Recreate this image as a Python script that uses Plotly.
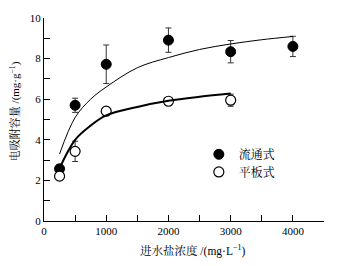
import plotly.graph_objects as go

# Data
conc = [250, 500, 1000, 2000, 3000, 4000]
flow_q = [2.57, 5.7, 7.72, 8.91, 8.34, 8.6]
flow_err = [0.2, 0.35, 0.95, 0.6, 0.55, 0.5]

conc_plate = [250, 500, 1000, 2000, 3000]
plate_q = [2.21, 3.43, 5.41, 5.9, 5.95]
plate_err = [0.2, 0.5, 0.15, 0.15, 0.3]

# fitted curves
fit_flow_x = [250, 500, 750, 1000, 1500, 2000, 2500, 3000, 3500, 4000]
fit_flow_y = [3.3, 5.1, 6.0, 6.6, 7.55, 8.05, 8.45, 8.72, 8.93, 9.09]
fit_plate_x = [250, 500, 750, 1000, 1500, 2000, 2500, 3000]
fit_plate_y = [2.6, 4.0, 4.7, 5.2, 5.62, 5.92, 6.12, 6.28]

x_ticks = [0, 1000, 2000, 3000, 4000]
y_ticks = [0, 2, 4, 6, 8, 10]

x_title = "进水盐浓度 /(mg·L<sup>−1</sup>)"
y_title = "电吸附容量 /(mg·g<sup>−1</sup>)"

FONT = "'Liberation Serif', 'Times New Roman', 'Noto Serif CJK SC', 'Noto Sans CJK SC', serif"

fig = go.Figure()
fig.add_trace(go.Scatter(
    x=conc, y=flow_q, mode="markers", name="流通式", legend="legend",
    marker=dict(symbol="circle", size=10, color="black", line=dict(color="black", width=1)),
    error_y=dict(type="data", array=flow_err, visible=True, color="#333333", thickness=1, width=3),
))
fig.add_trace(go.Scatter(
    x=conc_plate, y=plate_q, mode="markers", name="平板式", legend="legend2",
    marker=dict(symbol="circle", size=10, color="white", line=dict(color="black", width=1.2)),
    error_y=dict(type="data", array=plate_err, visible=True, color="#333333", thickness=1, width=3),
))
fig.add_trace(go.Scatter(
    x=fit_flow_x, y=fit_flow_y, mode="lines", showlegend=False,
    line=dict(color="black", width=1, shape="spline"),
))
fig.add_trace(go.Scatter(
    x=fit_plate_x, y=fit_plate_y, mode="lines", showlegend=False,
    line=dict(color="black", width=2, shape="spline"),
))

leg_common = dict(xanchor="left", yanchor="top", bgcolor="rgba(0,0,0,0)",
                  font=dict(size=12, family=FONT), itemwidth=30)
fig.update_layout(
    width=337, height=266,
    margin=dict(l=44, r=13, t=16, b=45),
    paper_bgcolor="white", plot_bgcolor="white",
    font=dict(family=FONT, size=12, color="black"),
    legend=dict(x=0.553, y=0.40, **leg_common),
    legend2=dict(x=0.553, y=0.313, **leg_common),
    annotations=[
        dict(text=x_title, xref="paper", yref="paper", x=0.532, y=0, yshift=-29,
             xanchor="center", yanchor="middle", showarrow=False,
             font=dict(size=11.5, family=FONT)),
        dict(text=y_title, xref="paper", yref="paper", x=0, y=0.541, xshift=-29,
             xanchor="center", yanchor="middle", showarrow=False, textangle=-90,
             font=dict(size=11, family=FONT)),
    ],
)
fig.update_xaxes(
    range=[0, 4500], tickvals=x_ticks, ticktext=[str(v) for v in x_ticks],
    ticks="inside", ticklen=6, tickwidth=1, tickcolor="black",
    minor=dict(dtick=500, ticks="inside", ticklen=6, tickwidth=1, tickcolor="black"),
    showline=True, linecolor="black", linewidth=1, showgrid=False, zeroline=False,
    tickfont=dict(size=11),
)
fig.update_yaxes(
    range=[0, 10], tickvals=y_ticks, ticktext=[str(v) for v in y_ticks],
    ticks="inside", ticklen=6, tickwidth=1, tickcolor="black",
    minor=dict(dtick=1, ticks="inside", ticklen=6, tickwidth=1, tickcolor="black"),
    showline=True, linecolor="black", linewidth=1, showgrid=False, zeroline=False,
    tickfont=dict(size=11),
)

fig.write_html("out.html", config={"displayModeBar": False},
               post_script="document.body.style.margin='0';")
